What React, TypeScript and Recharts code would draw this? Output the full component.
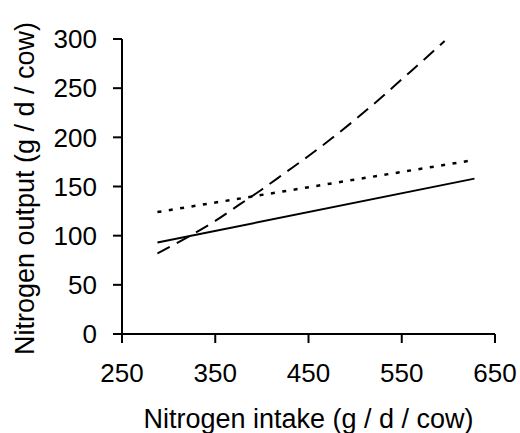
import { LineChart, Line, XAxis, YAxis, Label } from "recharts";

// nitrogen intake (g/d/cow) where each fitted line is sampled
const intakeSolid = [288, 628];
const outputSolid = [93, 158];

const intakeDotted = [288, 628];
const outputDotted = [124, 177];

const intakeDashed = [288, 325, 350, 375, 400, 425, 450, 475, 500, 525, 550, 575, 596];
const outputDashed = [82, 101, 115, 131, 147, 164, 181, 199, 218, 238, 259, 280, 298];

const xTicks = [250, 350, 450, 550, 650];
const yTicks = [0, 50, 100, 150, 200, 250, 300];

type Row = { intake: number; solid?: number; dotted?: number; dashed?: number };

function buildRows(): Row[] {
  const byIntake = new Map<number, Row>();
  const put = (xs: number[], ys: number[], key: "solid" | "dotted" | "dashed") => {
    xs.forEach((x, i) => {
      const row = byIntake.get(x) ?? { intake: x };
      row[key] = ys[i];
      byIntake.set(x, row);
    });
  };
  put(intakeSolid, outputSolid, "solid");
  put(intakeDotted, outputDotted, "dotted");
  put(intakeDashed, outputDashed, "dashed");
  return [...byIntake.values()].sort((a, b) => a.intake - b.intake);
}

const data = buildRows();

const FONT = '"Liberation Sans", Arial, sans-serif';
const axisStyle = { stroke: "#000", strokeWidth: 2 };

const YTitle = ({ viewBox }: { viewBox?: { x: number; y: number; width: number; height: number } }) => {
  if (!viewBox) return null;
  const x = 34;
  const y = viewBox.y + viewBox.height / 2 + 2;
  return (
    <text
      x={x}
      y={y}
      transform={`rotate(-90 ${x} ${y})`}
      textAnchor="middle"
      fontSize={27}
      fontFamily={FONT}
      fill="#000"
    >
      Nitrogen output (g / d / cow)
    </text>
  );
};

export default function App() {
  return (
    <div style={{ position: "absolute", left: 0, top: 0, background: "#fff" }}>
      <LineChart
        width={520}
        height={433}
        data={data}
        margin={{ top: 39, right: 25, bottom: 0, left: 0 }}
        style={{ fontFamily: FONT }}
      >
        <XAxis
          dataKey="intake"
          type="number"
          domain={[250, 650]}
          ticks={xTicks}
          height={99}
          tickSize={9}
          tickMargin={21}
          axisLine={axisStyle}
          tickLine={axisStyle}
          tick={{ fill: "#000", fontSize: 26, fontFamily: FONT }}
        >
          <Label
            value="Nitrogen intake (g / d / cow)"
            position="insideBottom"
            offset={5}
            style={{ fill: "#000", fontSize: 27, fontFamily: FONT }}
          />
        </XAxis>
        <YAxis
          type="number"
          domain={[0, 300]}
          ticks={yTicks}
          width={122}
          tickSize={9}
          tickMargin={16}
          axisLine={axisStyle}
          tickLine={axisStyle}
          tick={{ fill: "#000", fontSize: 26, fontFamily: FONT }}
        >
          <Label content={<YTitle />} />
        </YAxis>
        <Line
          dataKey="solid"
          type="linear"
          stroke="#000"
          strokeWidth={2}
          dot={false}
          connectNulls
          isAnimationActive={false}
        />
        <Line
          dataKey="dotted"
          type="linear"
          stroke="#000"
          strokeWidth={2.5}
          strokeDasharray="4 7.5"
          dot={false}
          connectNulls
          isAnimationActive={false}
        />
        <Line
          dataKey="dashed"
          type="monotone"
          stroke="#000"
          strokeWidth={2}
          strokeDasharray="14 8"
          dot={false}
          connectNulls
          isAnimationActive={false}
        />
      </LineChart>
    </div>
  );
}
